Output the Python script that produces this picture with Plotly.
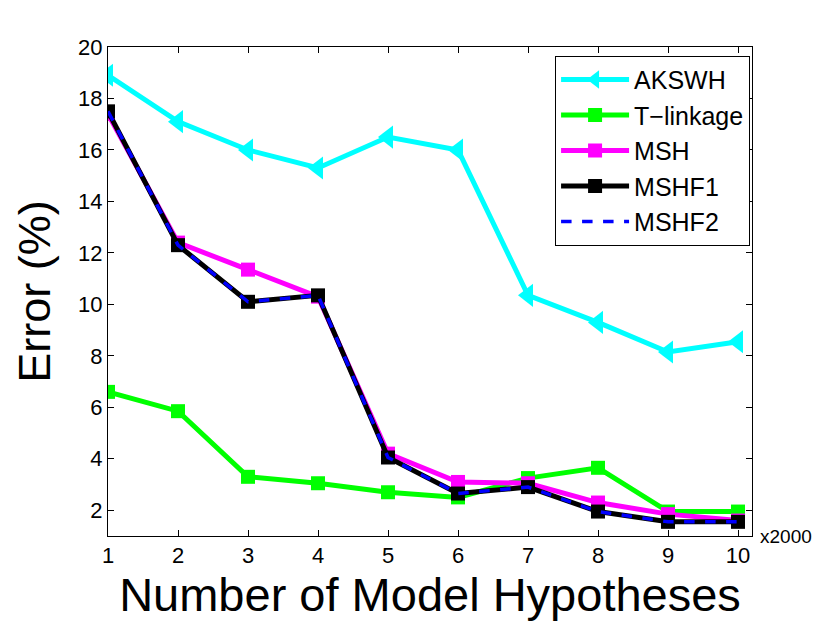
import plotly.graph_objects as go

# x axis: number of model hypotheses (x2000)
hypotheses = [1, 2, 3, 4, 5, 6, 7, 8, 9, 10]

# error (%) per method
akswh = [18.9, 17.1, 16.0, 15.3, 16.5, 16.0, 10.35, 9.3, 8.15, 8.55]
t_linkage = [6.6, 5.85, 3.3, 3.05, 2.7, 2.5, 3.25, 3.65, 1.95, 1.95]
msh = [17.4, 12.4, 11.35, 10.3, 4.2, 3.1, 3.05, 2.3, 1.85, 1.6]
mshf1 = [17.5, 12.3, 10.1, 10.35, 4.05, 2.65, 2.9, 1.95, 1.55, 1.55]
mshf2 = [17.5, 12.3, 10.1, 10.35, 4.05, 2.65, 2.9, 1.95, 1.55, 1.55]

fig = go.Figure()

fig.add_trace(go.Scatter(
    x=hypotheses, y=akswh, name="AKSWH", mode="lines+markers",
    line=dict(color="#00ffff", width=5),
    marker=dict(symbol="triangle-left", size=20, color="#00ffff")
))
fig.add_trace(go.Scatter(
    x=hypotheses, y=t_linkage, name="T\u2212linkage", mode="lines+markers",
    line=dict(color="#00ff00", width=5),
    marker=dict(symbol="square", size=14, color="#00ff00")
))
fig.add_trace(go.Scatter(
    x=hypotheses, y=msh, name="MSH", mode="lines+markers",
    line=dict(color="#ff00ff", width=5),
    marker=dict(symbol="square", size=14, color="#ff00ff")
))
fig.add_trace(go.Scatter(
    x=hypotheses, y=mshf1, name="MSHF1", mode="lines+markers",
    line=dict(color="black", width=5),
    marker=dict(symbol="square", size=14, color="black")
))
fig.add_trace(go.Scatter(
    x=hypotheses, y=mshf2, name="MSHF2", mode="lines",
    line=dict(color="#0000ff", width=3.5, dash="dash")
))

axis_style = dict(
    showline=True, linecolor="black", linewidth=1, mirror="ticks",
    ticks="inside", ticklen=6, tickcolor="black",
    showgrid=False, zeroline=False, automargin=False,
    tickfont=dict(size=22, color="black"),
)

fig.update_xaxes(
    range=[1, 10.2], tickvals=hypotheses,
    title=dict(text="Number of Model Hypotheses", font=dict(size=47, color="black"), standoff=4),
    **axis_style
)
fig.update_yaxes(
    range=[1, 20], tickvals=[2, 4, 6, 8, 10, 12, 14, 16, 18, 20],
    title=dict(text="Error (%)", font=dict(size=45, color="black"), standoff=13),
    **axis_style
)

fig.add_annotation(
    text="x2000", x=1.01, y=0.0, xref="paper", yref="paper",
    xanchor="left", yanchor="middle", showarrow=False,
    font=dict(size=19, color="black")
)

# page body has an 8px default margin, so the figure is shrunk by that amount
fig.update_layout(
    width=822, height=615,
    margin=dict(l=100, r=78, t=39, b=87),
    plot_bgcolor="white", paper_bgcolor="white",
    font=dict(family="Liberation Sans, Arial, sans-serif", color="black"),
    legend=dict(
        x=0.997, y=0.982, xanchor="right", yanchor="top",
        bgcolor="white", bordercolor="black", borderwidth=1,
        font=dict(size=25, color="black"), itemwidth=68,
        tracegroupgap=0
    ),
    showlegend=True
)

fig.write_html("out.html")
